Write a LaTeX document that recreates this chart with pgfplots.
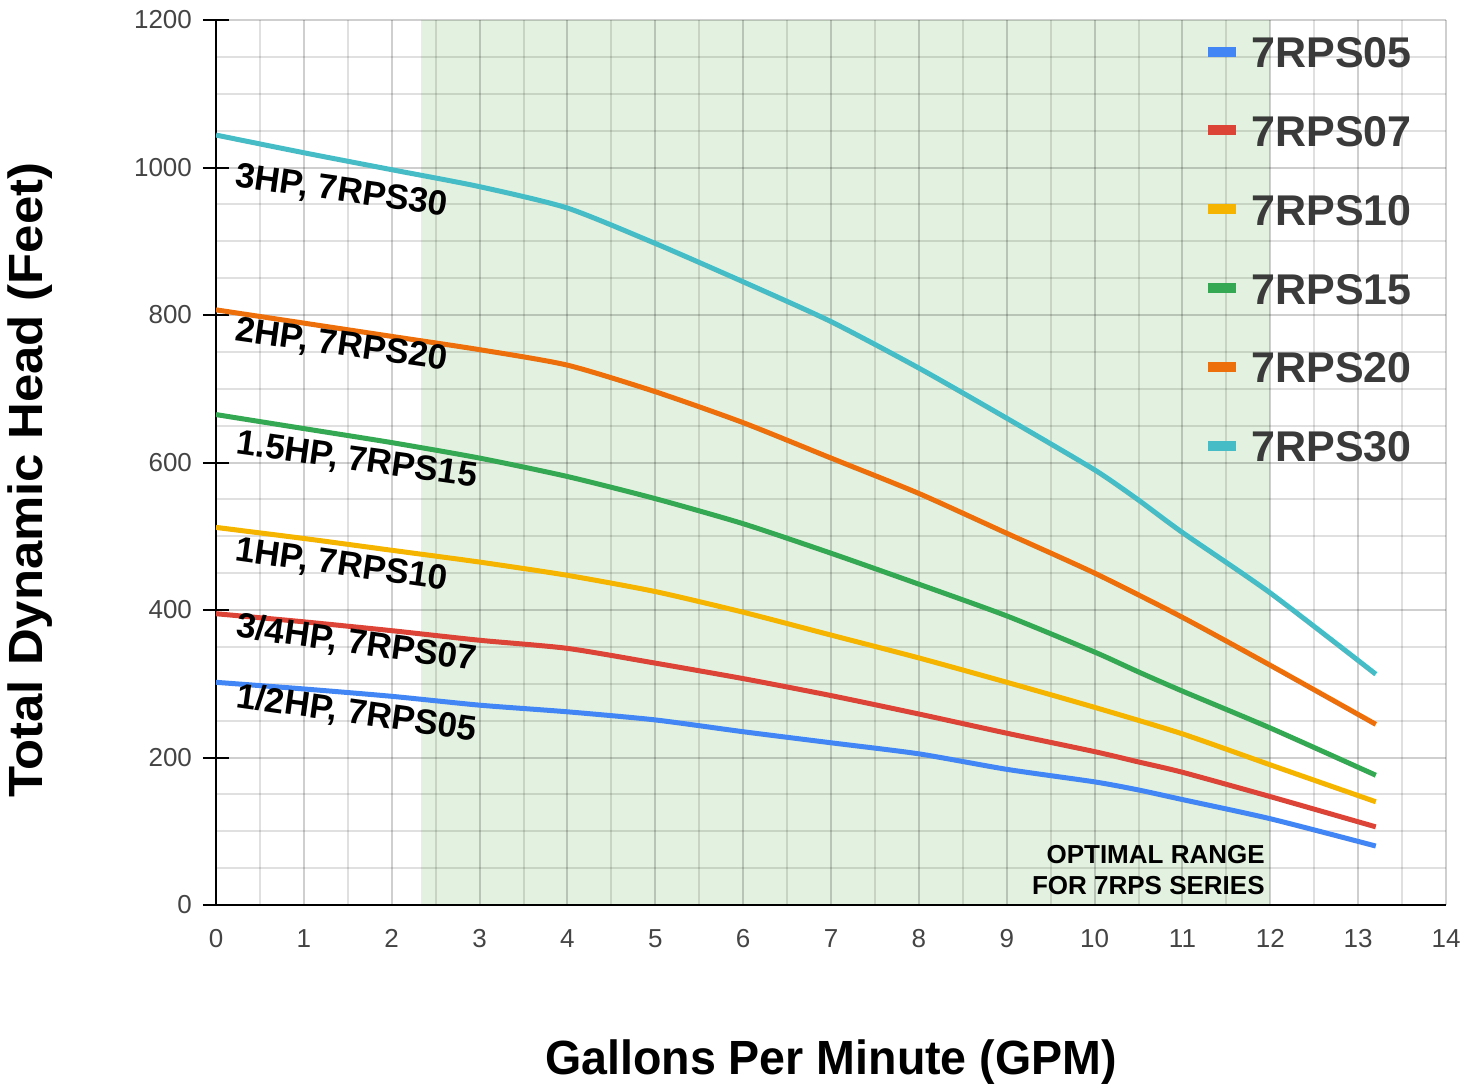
\documentclass[border=0pt]{standalone}
\usepackage{fontspec}
\setmainfont{Liberation Sans}
\newfontfamily\condfont{Liberation Sans}[FakeStretch=0.97]
\newfontfamily\widefont{Liberation Sans}[FakeStretch=1.06]
\usepackage{pgfplots}
\pgfplotsset{compat=1.18}

\definecolor{c05}{HTML}{4285F4}
\definecolor{c07}{HTML}{DB4437}
\definecolor{c10}{HTML}{F4B400}
\definecolor{c15}{HTML}{34A853}
\definecolor{c20}{HTML}{EC6F0C}
\definecolor{c30}{HTML}{46BDC6}
\definecolor{bandgreen}{RGB}{227,242,224}
\definecolor{tickgray}{HTML}{444444}
\definecolor{legtext}{HTML}{3A3A3A}

\begin{document}
\begin{tikzpicture}
\begin{axis}[
  set layers,
  width=615pt, height=442.5pt, scale only axis,
  xmin=0, xmax=14, ymin=0, ymax=1200,
  xtick={0,1,...,14}, ytick={0,200,...,1200},
  minor x tick num=1, minor y tick num=3,
  grid=both,
  major grid style={black, opacity=0.19, line width=1pt},
  minor grid style={black, opacity=0.12, line width=1pt},
  axis x line*=bottom, axis y line*=left,
  axis line style={black, line width=1pt},
  tick align=center,
  major tick length=13pt, minor tick length=0pt,
  ytick style={black, line width=1pt},
  xtick style={draw=none},
  minor tick style={draw=none},
  /pgf/number format/1000 sep={},
  tick label style={font=\fontsize{13}{15}\selectfont, text=tickgray,
    /pgf/number format/assume math mode=true},
  xticklabel style={yshift=-2pt},
  yticklabel style={xshift=-2pt},
  xlabel={Gallons Per Minute (GPM)},
  ylabel={Total Dynamic Head (Feet)},
  xlabel style={font=\condfont\bfseries\fontsize{24}{28}\selectfont,
    at={(axis description cs:0.5,-0.177)}, anchor=center},
  ylabel style={font=\widefont\bfseries\fontsize{24}{28}\selectfont,
    at={(axis description cs:-0.151,0.48)}, anchor=center},
  legend style={at={(rel axis cs:0.8024,0.985)}, anchor=north west,
    draw=none, fill=none, inner sep=0pt, row sep=21.4pt, column sep=4pt,
    font=\fontsize{21.5}{24}\selectfont\bfseries, text=legtext,
    nodes={inner sep=1pt, text height=16pt, text depth=0pt}},
  legend cell align=left,
  legend image code/.code={\draw[line width=5pt] (0pt,0pt) -- (14pt,0pt);},
]
\begin{pgfonlayer}{axis background}
  \fill[bandgreen] (axis cs:2.33,0) rectangle (axis cs:12,1200);
\end{pgfonlayer}

% 7RPS05
\addplot[c05, line width=2.5pt, smooth, tension=0.4] coordinates {
  (0,302) (1,293) (2,283) (3,271) (4,262) (5,251) (6,235) (7,220)
  (8,205) (9,184) (10,167) (10.5,156) (11,143) (12,117) (13.2,80)
};
\addlegendentry{7RPS05}
% 7RPS07
\addplot[c07, line width=2.5pt, smooth, tension=0.4] coordinates {
  (0,395) (1,384) (2,372) (3,359) (4,348) (5,328) (6,307) (7,284)
  (8,259) (9,233) (10,208) (10.5,194) (11,180) (12,147) (13.2,106)
};
\addlegendentry{7RPS07}
% 7RPS10
\addplot[c10, line width=2.5pt, smooth, tension=0.4] coordinates {
  (0,512) (1,497) (2,481) (3,465) (4,447) (5,425) (6,397) (7,366)
  (8,335) (9,302) (10,268) (11,232) (12,190) (13.2,140)
};
\addlegendentry{7RPS10}
% 7RPS15
\addplot[c15, line width=2.5pt, smooth, tension=0.4] coordinates {
  (0,665) (1,646) (2,627) (3,606) (4,581) (5,551) (6,517) (7,477)
  (8,435) (9,392) (10,343) (10.5,316) (11,290) (12,240) (13.2,176)
};
\addlegendentry{7RPS15}
% 7RPS20
\addplot[c20, line width=2.5pt, smooth, tension=0.4] coordinates {
  (0,807) (1,789) (2,771) (3,753) (4,732) (5,696) (6,654) (7,606)
  (8,558) (9,504) (10,450) (11,390) (12,325) (13.2,245)
};
\addlegendentry{7RPS20}
% 7RPS30
\addplot[c30, line width=2.5pt, smooth, tension=0.4] coordinates {
  (0,1044) (1,1020) (2,997) (3,974) (4,945) (5,897) (6,845) (7,791)
  (8,728) (9,660) (10,590) (10.5,549) (11,505) (12,423) (13.2,313)
};
\addlegendentry{7RPS30}

\begin{scope}[font=\fontsize{17.5}{19}\selectfont\bfseries]
  \node[rotate=-8] at (axis cs:1.43,967) {3HP, 7RPS30};
  \node[rotate=-8] at (axis cs:1.43,758) {2HP, 7RPS20};
  \node[rotate=-8] at (axis cs:1.60,602) {1.5HP, 7RPS15};
  \node[rotate=-8] at (axis cs:1.43,460) {1HP, 7RPS10};
  \node[rotate=-8] at (axis cs:1.60,354) {3/4HP, 7RPS07};
  \node[rotate=-8] at (axis cs:1.60,259) {1/2HP, 7RPS05};
\end{scope}
\node[anchor=south east, align=right, inner sep=0pt,
  font=\fontsize{13}{15.5}\selectfont\bfseries] at (axis cs:11.94,13)
  {OPTIMAL RANGE\\FOR 7RPS SERIES};

\coordinate (bbl) at (rel axis cs:-0.1756,-0.2102);
\coordinate (btr) at (rel axis cs:1.0276,1.0226);
\end{axis}
\path (bbl) rectangle (btr);
\end{tikzpicture}
\end{document}
